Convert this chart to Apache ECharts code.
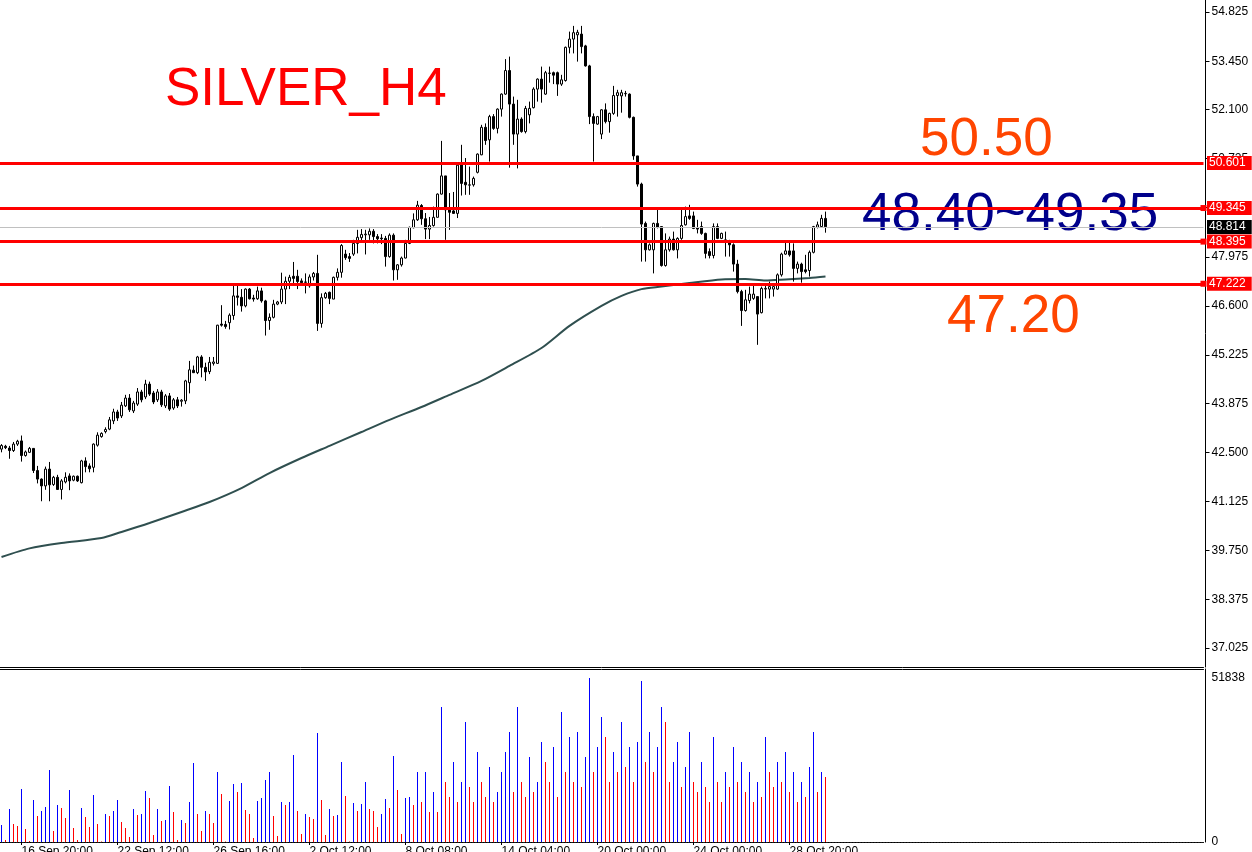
<!DOCTYPE html>
<html><head><meta charset="utf-8">
<script src="https://cdn.jsdelivr.net/npm/echarts@6/dist/echarts.min.js"></script>
<style>html,body{margin:0;padding:0;background:#fff;overflow:hidden}#c{width:1252px;height:852px}</style>
</head><body><div id="c"></div>
<script>
// ---------- data ----------
const opens = [42.59,42.67,42.62,42.55,42.73,42.82,42.41,42.50,42.61,41.99,41.75,41.56,42.03,41.60,41.80,41.46,41.67,41.84,41.72,41.83,41.65,42.26,42.12,42.08,42.70,42.94,43.08,43.15,43.38,43.63,43.52,43.80,44.02,43.66,43.85,44.19,44.05,44.41,44.16,43.97,44.19,43.80,44.08,43.74,43.97,43.93,43.94,44.45,44.80,44.73,45.17,44.88,44.76,44.99,44.99,46.09,46.08,46.13,46.33,46.88,46.84,46.60,47.07,46.82,46.80,47.02,46.74,46.19,46.28,46.65,46.71,47.07,47.29,47.43,47.43,47.30,47.26,47.16,47.41,47.51,46.11,46.83,46.98,46.79,47.40,47.54,48.05,47.98,48.05,48.35,48.51,48.59,48.59,48.69,48.54,48.50,48.49,47.98,48.58,47.61,47.75,47.94,48.35,48.79,49.01,49.41,49.04,48.75,48.85,49.08,49.73,50.24,49.29,49.26,49.19,50.55,50.06,49.98,49.99,50.34,50.83,51.60,51.25,51.90,51.57,52.11,52.53,53.19,52.25,51.41,51.83,51.48,51.95,52.15,52.67,52.95,52.53,53.11,53.13,53.13,52.81,52.91,53.84,54.07,54.19,54.21,53.88,53.32,51.90,51.69,51.41,52.09,51.76,51.99,52.49,52.48,52.54,52.53,51.88,50.80,50.01,48.91,48.17,48.17,48.91,48.82,47.73,48.17,48.47,48.17,48.49,48.87,49.12,49.12,48.79,48.82,48.63,48.12,48.01,48.82,48.49,48.39,48.37,48.31,47.77,47.00,46.47,46.75,46.81,46.86,46.41,47.07,47.07,47.07,47.07,47.47,48.05,48.14,48.14,47.65,47.77,47.61,47.59,48.10,48.80,48.82,49.05];
const highs = [42.73,42.71,42.68,42.79,42.85,42.97,42.55,42.65,42.62,42.12,41.77,42.10,42.23,41.84,41.87,41.75,41.94,41.91,41.85,41.85,42.29,42.36,42.19,42.75,43.06,43.06,43.20,43.49,43.72,43.69,43.91,44.11,44.13,43.94,44.30,44.25,44.53,44.48,44.22,44.27,44.25,44.13,44.16,44.02,44.05,43.99,44.53,45.06,44.93,45.20,45.22,45.01,45.17,45.17,46.07,46.62,46.18,46.39,47.16,47.19,47.07,47.09,47.10,46.91,47.14,47.11,46.77,46.39,46.77,46.74,47.53,47.42,47.47,47.83,47.61,47.37,47.51,47.48,47.55,48.03,46.95,46.99,47.00,47.42,47.65,48.33,48.17,48.08,48.45,48.73,48.75,48.73,48.77,48.75,48.61,48.61,48.56,48.63,48.63,47.77,47.98,48.45,48.82,49.19,49.54,49.45,49.20,49.09,49.38,49.75,51.22,50.24,49.76,49.79,50.55,51.11,50.74,50.50,50.22,50.87,51.67,51.71,51.95,51.97,52.13,52.55,53.51,53.58,52.46,52.37,51.88,52.20,52.32,52.72,52.97,53.30,53.18,53.30,53.16,53.16,53.07,53.86,54.28,54.44,54.33,54.44,53.91,53.35,51.99,51.92,52.11,52.27,52.01,52.76,52.65,52.65,52.62,52.55,51.90,50.80,50.05,48.96,48.35,48.93,49.29,48.82,48.63,48.54,48.68,48.52,49.33,49.38,49.43,49.24,49.01,48.96,48.65,48.21,48.91,48.91,48.65,48.68,48.45,48.35,47.89,47.05,47.05,47.14,47.19,46.86,47.14,47.23,47.28,47.23,47.51,48.09,48.37,48.37,48.35,47.84,47.81,48.03,48.15,48.84,48.96,49.15,49.24];
const lows = [42.50,42.59,42.32,42.51,42.68,42.24,42.38,42.48,41.92,41.63,41.13,41.45,41.13,41.56,41.45,41.18,41.63,41.44,41.69,41.67,41.63,41.94,41.94,41.94,42.66,42.91,43.03,43.12,43.29,43.38,43.46,43.77,43.63,43.60,43.80,43.90,43.99,44.08,43.85,43.91,43.77,43.74,43.66,43.69,43.74,43.78,43.85,44.15,44.72,44.69,44.60,44.50,44.69,44.93,44.98,46.02,45.96,45.94,46.21,46.61,46.44,46.56,46.78,46.72,46.77,46.69,45.77,45.93,46.25,46.62,46.65,46.65,47.07,47.23,47.07,47.17,46.95,47.11,47.31,45.90,45.99,46.80,46.65,46.79,47.31,47.39,47.89,47.83,48.00,48.07,48.37,48.04,48.45,48.35,48.35,48.33,47.70,47.95,47.31,47.33,47.70,47.93,48.33,48.77,48.98,48.87,48.47,48.47,48.82,49.08,49.72,48.45,48.73,49.19,49.06,49.69,49.71,49.71,49.94,50.31,50.82,51.11,50.64,51.53,51.43,51.90,52.51,50.47,51.11,50.45,51.45,51.43,51.71,52.13,52.32,52.29,52.51,52.85,52.81,52.48,52.76,52.88,53.67,53.67,53.44,53.67,53.30,51.69,50.64,51.67,51.27,51.71,51.45,51.95,51.90,52.01,52.46,51.85,50.69,49.94,47.84,47.84,48.15,47.51,48.77,47.70,47.70,48.12,48.15,47.93,48.45,48.85,49.01,48.75,48.63,48.59,47.93,47.93,47.93,48.47,48.47,47.98,47.98,47.56,46.95,46.04,46.44,46.67,46.77,45.51,46.39,46.81,46.81,46.86,47.05,47.42,48.03,47.98,47.28,47.51,47.25,47.51,47.42,48.07,48.77,48.80,48.65];
const closes = [42.69,42.63,42.55,42.73,42.81,42.41,42.51,42.61,41.99,41.75,41.56,42.03,41.59,41.80,41.46,41.70,41.80,41.70,41.83,41.70,42.26,42.10,42.04,42.73,42.98,43.03,43.14,43.41,43.63,43.46,43.82,44.02,43.69,43.88,44.19,43.97,44.41,44.13,43.91,44.19,43.83,44.08,43.71,43.97,43.80,43.96,44.50,44.81,44.73,45.17,44.88,44.75,45.02,45.03,46.06,46.06,46.02,46.34,46.88,46.84,46.60,47.07,46.80,46.79,47.02,46.74,46.19,46.28,46.65,46.71,47.07,47.29,47.40,47.37,47.28,47.25,47.27,47.41,47.51,46.11,46.83,46.95,46.81,47.40,47.54,48.29,47.95,47.93,48.35,48.52,48.60,48.61,48.69,48.54,48.48,48.48,47.98,48.58,47.61,47.75,47.94,48.35,48.80,49.01,49.42,49.04,48.75,48.85,49.08,49.73,50.24,49.29,49.22,49.19,50.54,50.03,49.99,49.99,50.17,50.85,51.60,51.23,51.90,51.57,52.11,52.53,53.19,52.25,51.41,51.83,51.48,52.13,52.13,52.67,52.95,52.67,53.13,53.12,53.06,52.81,52.93,53.84,54.07,54.25,54.26,53.86,53.32,51.90,51.71,51.90,52.09,51.76,51.99,52.49,52.57,52.57,52.55,51.88,50.80,50.01,48.89,48.17,48.31,48.91,48.80,47.73,48.17,48.47,48.17,48.49,48.85,49.10,49.05,48.77,48.75,48.63,48.07,48.01,48.82,48.49,48.63,48.45,48.31,47.77,47.00,46.47,46.77,46.93,46.93,46.37,47.09,47.09,47.14,47.14,47.47,48.05,48.14,48.03,47.65,47.77,47.56,47.56,48.10,48.82,48.87,49.05,48.814];
const volumes = [5372,632,10428,5688,5056,16748,4108,316,13272,8216,9796,11060,22752,3476,11692,10744,7584,16432,4424,632,10744,7900,4740,14852,5688,158,8848,8216,9796,13272,6320,4424,1580,10428,8532,8848,16116,13904,2212,10428,6636,6952,17696,9480,632,6952,6004,12640,24964,8848,3476,9796,8848,6004,22120,15168,158,12956,18328,15800,18644,10112,8848,1264,12956,13904,19592,22120,8216,1896,12640,11692,12640,27492,9796,2528,8848,7900,7268,34444,13272,2212,10428,8216,8532,25280,14536,158,12324,9796,12008,18960,10428,9796,4740,8848,13588,10744,27176,16432,2528,13904,14220,11692,22120,12640,22120,9480,15800,9480,42660,18960,14220,25280,12640,18960,37920,17380,12640,28440,18960,14220,23700,12640,15800,22120,28440,34760,15800,42660,18960,14220,26860,15800,18960,31600,25280,18960,30020,14220,41080,22120,33180,18960,34760,17380,26860,51838,22120,30020,39500,33180,18960,28440,22120,37920,23700,30020,18960,31600,50876,25280,34760,22120,30020,42660,37920,18960,25280,31600,17380,23700,34760,18960,15800,25280,17380,12640,33180,18960,12640,22120,17380,30020,18960,25280,15800,22120,12640,18960,14220,33180,22120,17380,25280,18960,28440,15800,22120,12640,18960,14220,23700,34760,15800,22120,20540];
// moving average (read at sample bars)
const maBars   = [0,7,15,25,30,37,45,52,60,67,75,82,90,97,105,112,120,127,135,142,150,155,160,165,172,180,186,191,196,202,206];
const maValues = [39.57,39.81,39.96,40.10,40.27,40.52,40.83,41.11,41.50,41.92,42.34,42.68,43.07,43.41,43.77,44.11,44.50,44.92,45.42,46.04,46.60,46.88,47.07,47.14,47.24,47.34,47.35,47.31,47.34,47.38,47.42];
// price axis ticks
const priceTicks = [54.825,53.450,52.100,50.725,49.350,47.975,46.600,45.225,43.875,42.500,41.125,39.750,38.375,37.025];
// horizontal levels (first one drawn without the end marker)
const topLevel = 50.601;
const levels = [49.345,48.395,47.222];
const lastPrice = 48.814;
const volumeMaxLabel = 51838;
// time axis labels
const timeLabelBars = [5,29,53,77,101,125,149,173,197];
const timeLabels = ['16 Sep 20:00','22 Sep 12:00','26 Sep 16:00','2 Oct 12:00','8 Oct 08:00','14 Oct 04:00','20 Oct 00:00','24 Oct 00:00','28 Oct 20:00'];
// annotations
const titleText = 'SILVER_H4';
const noteTop = '50.50';
const noteMid = '48.40~49.35';
const noteLow = '47.20';

// ---------- chart ----------
const N_SLOTS = 301;
const cats = Array.from({length: N_SLOTS}, (_, i) => i);
const candleData = opens.map((o, i) => [o, closes[i], lows[i], highs[i]]);
const volData = volumes.map((v, i) => ({value: v, itemStyle: {color: (i === 0 || v > volumes[i - 1]) ? '#0000FF' : '#FF0000'}}));
const maData = maBars.map((b, i) => [b, maValues[i]]);
const labelMap = {};
timeLabelBars.forEach((b, i) => labelMap[b] = timeLabels[i]);
const FONT = 'Liberation Sans, Arial, sans-serif';

const levelItem = (v) => ({
  yAxis: v,
  lineStyle: {color: '#FF0000', width: 3, type: 'solid'},
  label: {show: true, position: 'end', distance: 3.5, formatter: () => v.toFixed(3),
    color: '#fff', backgroundColor: '#FF0000', padding: [1, 6, 1, 2], fontSize: 12, fontFamily: FONT}
});

const chart = echarts.init(document.getElementById('c'));
chart.setOption({
  animation: false,
  backgroundColor: '#ffffff',
  grid: [
    {left: -0.5, right: 48.5, top: 0, height: 667, outerBoundsMode: 'none', containLabel: false},
    {left: -0.5, right: 48.5, top: 669, height: 173, outerBoundsMode: 'none', containLabel: false}
  ],
  xAxis: [
    {type: 'category', gridIndex: 0, data: cats, boundaryGap: true,
      axisLine: {show: true, lineStyle: {color: '#000', width: 1}}, axisTick: {show: false}, axisLabel: {show: false}, splitLine: {show: false}},
    {type: 'category', gridIndex: 1, data: cats, boundaryGap: true, position: 'bottom',
      axisLine: {show: true, lineStyle: {color: '#000', width: 1, type: [2, 1]}},
      axisTick: {show: true, alignWithLabel: true, length: 3, interval: (i) => labelMap[i] !== undefined, lineStyle: {color: '#000'}},
      axisLabel: {show: true, interval: (i) => labelMap[i] !== undefined, formatter: (v) => labelMap[v] || '',
        align: 'left', margin: 4, color: '#000', fontSize: 12, fontFamily: FONT},
      splitLine: {show: false}},
    {type: 'category', gridIndex: 1, data: cats, position: 'top',
      axisLine: {show: true, lineStyle: {color: '#000', width: 1}}, axisTick: {show: false}, axisLabel: {show: false}}
  ],
  yAxis: [
    {type: 'value', gridIndex: 0, position: 'right', offset: 2, min: 36.489, max: 55.165, scale: true,
      axisLine: {show: true, lineStyle: {color: '#000', width: 1}},
      axisTick: {show: true, length: 4, customValues: priceTicks, lineStyle: {color: '#000'}},
      axisLabel: {show: true, customValues: priceTicks, formatter: (v) => v.toFixed(3), margin: 6, color: '#000', fontSize: 12, fontFamily: FONT},
      splitLine: {show: false}},
    {type: 'value', gridIndex: 1, position: 'right', offset: 2, min: 0, max: 54683,
      axisLine: {show: true, lineStyle: {color: '#000', width: 1}},
      axisTick: {show: false, customValues: [0, volumeMaxLabel]},
      axisLabel: {show: true, customValues: [0, volumeMaxLabel], formatter: (v) => String(v), margin: 6, color: '#000', fontSize: 12, fontFamily: FONT},
      splitLine: {show: false}}
  ],
  series: [
    {type: 'line', name: 'last', xAxisIndex: 0, yAxisIndex: 0, data: [], z: 1, silent: true,
      markLine: {silent: true, symbol: ['none', 'none'], animation: false,
        data: [{yAxis: lastPrice, lineStyle: {color: '#C0C0C0', width: 1, type: 'solid'},
          label: {show: true, position: 'end', distance: 3.5, formatter: () => lastPrice.toFixed(3), color: '#fff', backgroundColor: '#000', padding: [1, 6, 1, 2], fontSize: 12, fontFamily: FONT}}]}},
    {type: 'line', name: 'MA', xAxisIndex: 0, yAxisIndex: 0, data: maData, showSymbol: false, smooth: 0.25, z: 2,
      lineStyle: {color: '#2F4F4F', width: 2}},
    {type: 'candlestick', name: 'SILVER', xAxisIndex: 0, yAxisIndex: 0, data: candleData, barWidth: 2, z: 3,
      itemStyle: {color: '#ffffff', color0: '#000000', borderColor: '#000000', borderColor0: '#000000', borderWidth: 1}},
    {type: 'line', name: 'level-top', xAxisIndex: 0, yAxisIndex: 0, data: [], z: 5, silent: true,
      markLine: {silent: true, animation: false, symbol: ['none', 'none'], data: [levelItem(topLevel)]}},
    {type: 'line', name: 'levels', xAxisIndex: 0, yAxisIndex: 0, data: [], z: 5, silent: true,
      markLine: {silent: true, animation: false, symbol: ['none', 'rect'], symbolSize: 6, data: levels.map(levelItem)}},
    {type: 'bar', name: 'Volumes', xAxisIndex: 1, yAxisIndex: 1, data: volData, barWidth: 1}
  ],
  graphic: [
    {type: 'text', left: 165, top: 64, style: {text: titleText, fill: '#FF0000', font: '53px ' + FONT}},
    {type: 'text', left: 920, top: 114, style: {text: noteTop, fill: '#FF4500', font: '53px ' + FONT}},
    {type: 'text', left: 862, top: 189, style: {text: noteMid, fill: '#00008B', font: '53px ' + FONT}},
    {type: 'text', left: 947, top: 291, style: {text: noteLow, fill: '#FF4500', font: '53px ' + FONT}}
  ]
});
</script>
</body></html>
